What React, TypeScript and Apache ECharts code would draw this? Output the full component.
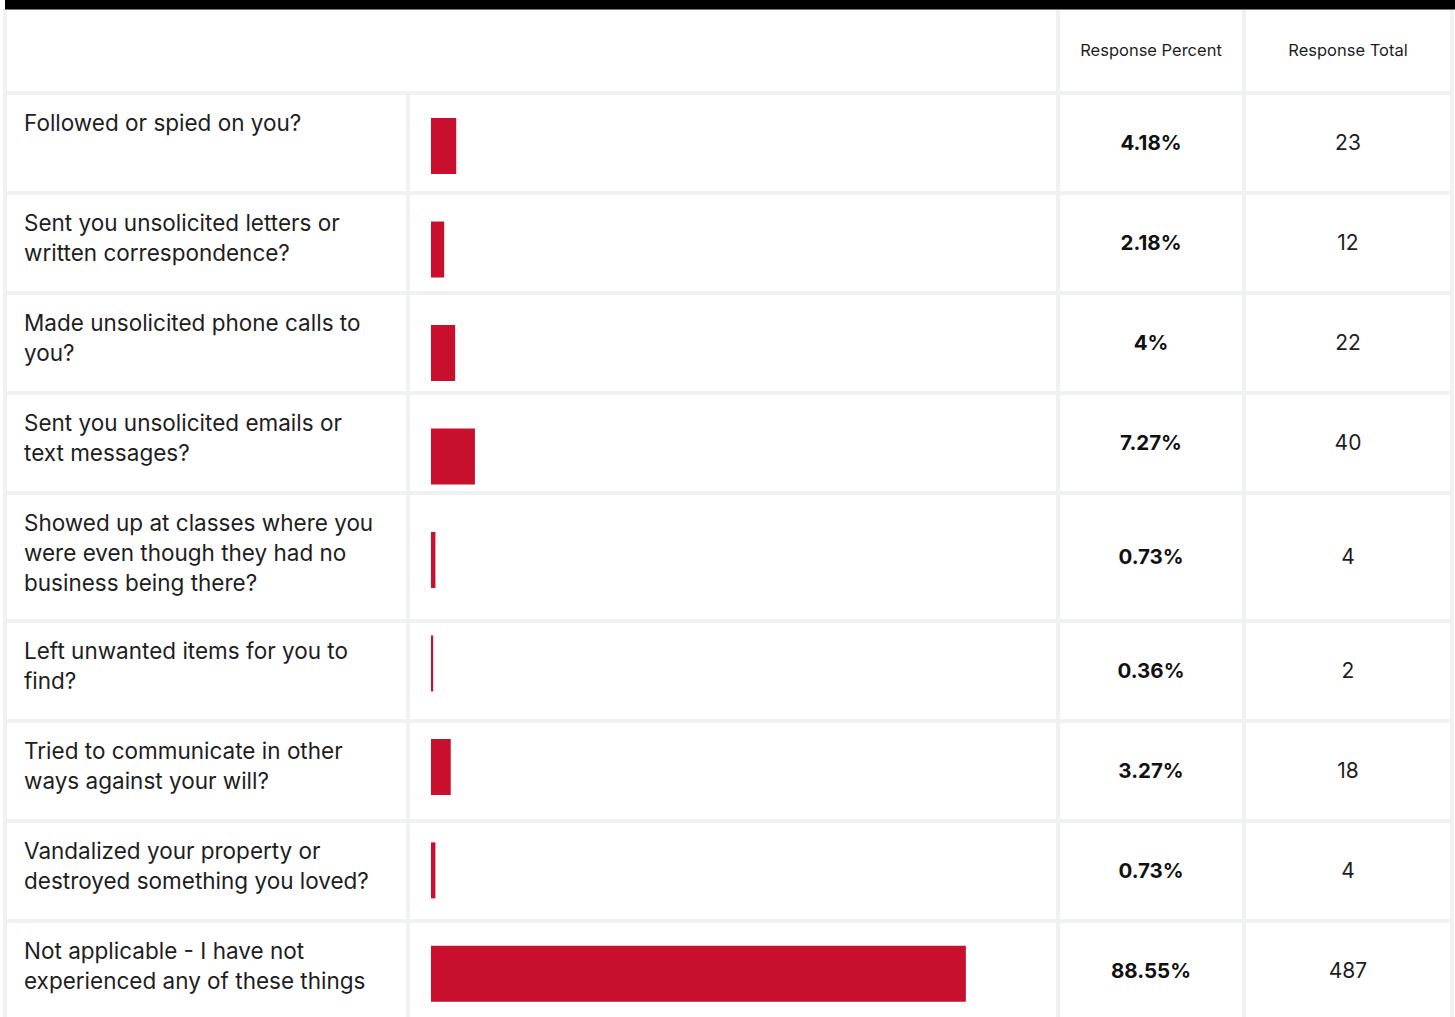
import React, { useEffect, useRef } from "react";
import * as echarts from "echarts";

const questions: string[][] = [
  ["Followed or spied on you?"],
  ["Sent you unsolicited letters or", "written correspondence?"],
  ["Made unsolicited phone calls to", "you?"],
  ["Sent you unsolicited emails or", "text messages?"],
  ["Showed up at classes where you", "were even though they had no", "business being there?"],
  ["Left unwanted items for you to", "find?"],
  ["Tried to communicate in other", "ways against your will?"],
  ["Vandalized your property or", "destroyed something you loved?"],
  ["Not applicable - I have not", "experienced any of these things"],
];
const percents: number[] = [4.18, 2.18, 4, 7.27, 0.73, 0.36, 3.27, 0.73, 88.55];
const percentLabels: string[] = ["4.18%", "2.18%", "4%", "7.27%", "0.73%", "0.36%", "3.27%", "0.73%", "88.55%"];
const totals: number[] = [23, 12, 22, 40, 4, 2, 18, 4, 487];
const headers: string[] = ["Response Percent", "Response Total"];

const FONT = "Inter, 'Noto Sans', sans-serif";
const BAR_COLOR = "#c8102e";
const LINE = "#f0f1f1";
const TEXT = "#1e1e1e";

export default function App() {
  const ref = useRef<HTMLDivElement>(null);
  useEffect(() => {
    if (!ref.current) return;
    document.body.style.margin = "0";
    const chart = echarts.init(ref.current, null, { renderer: "svg" });

    const colL = [7, 410, 1060, 1246];
    const colR = [406, 1056, 1242, 1450];
    const headerTop = 10;
    const headerBottom = 91;
    const gap = 4;
    const rows: { top: number; h: number }[] = [];
    let y = headerBottom + gap;
    questions.forEach((q) => {
      const h = q.length >= 3 ? 124 : 96;
      rows.push({ top: y, h });
      y += h + gap;
    });

    const elements: any[] = [];
    elements.push({ type: "rect", z: -5, shape: { x: 3, y: 9, width: 1451, height: 1100 }, style: { fill: LINE }, silent: true });
    elements.push({ type: "rect", z: -4, shape: { x: 5, y: 0, width: 1450, height: 9.5 }, style: { fill: "#000" }, silent: true });
    elements.push({ type: "rect", z: -3, shape: { x: colL[0], y: headerTop, width: colR[1] - colL[0], height: headerBottom - headerTop }, style: { fill: "#fff" } });
    elements.push({ type: "rect", z: -3, shape: { x: colL[2], y: headerTop, width: colR[2] - colL[2], height: headerBottom - headerTop }, style: { fill: "#fff" } });
    elements.push({ type: "rect", z: -3, shape: { x: colL[3], y: headerTop, width: colR[3] - colL[3], height: headerBottom - headerTop }, style: { fill: "#fff" } });
    headers.forEach((h, i) => {
      const c = i + 2;
      elements.push({
        type: "text", z: 5, x: (colL[c] + colR[c]) / 2, y: 50,
        style: { text: h, fill: TEXT, fontSize: 16.5, fontFamily: FONT, align: "center", verticalAlign: "middle", textAlign: "center", textVerticalAlign: "middle" },
      });
    });
    rows.forEach((r, i) => {
      for (let c = 0; c < 4; c++) {
        elements.push({ type: "rect", z: -3, shape: { x: colL[c], y: r.top, width: colR[c] - colL[c], height: Math.min(r.h, 1040 - r.top) }, style: { fill: "#fff" } });
      }
      elements.push({
        type: "text", z: 5, x: 24, y: r.top + 12,
        style: { text: questions[i].join("\n"), fill: TEXT, fontSize: 22.5, lineHeight: 30, fontFamily: FONT, align: "left", verticalAlign: "top", textAlign: "left", textVerticalAlign: "top" },
      });
      const cy = r.top + r.h / 2 - 1;
      elements.push({
        type: "text", z: 5, x: (colL[2] + colR[2]) / 2, y: cy,
        style: { text: percentLabels[i], fill: "#111", fontSize: 20.5, fontWeight: "bold", fontFamily: FONT, align: "center", verticalAlign: "middle", textAlign: "center", textVerticalAlign: "middle" },
      });
      elements.push({
        type: "text", z: 5, x: (colL[3] + colR[3]) / 2, y: cy,
        style: { text: String(totals[i]), fill: TEXT, fontSize: 21, fontFamily: FONT, align: "center", verticalAlign: "middle", textAlign: "center", textVerticalAlign: "middle" },
      });
    });

    chart.setOption({
      animation: false,
      backgroundColor: "#fff",
      graphic: { elements },
      grid: { left: 431, width: 604, top: 94.3, height: 931.3, containLabel: false },
      xAxis: { type: "value", min: 0, max: 100, show: false },
      yAxis: { type: "category", inverse: true, data: questions.map((q) => q.join(" ")), show: false },
      series: [
        {
          type: "bar", data: percents, barWidth: 56, z: 10,
          itemStyle: { color: BAR_COLOR }, silent: true,
        },
      ],
    });
    return () => chart.dispose();
  }, []);
  return (
    <div style={{ position: "absolute", left: 0, top: 0, width: 1455, height: 1017, overflow: "hidden" }}>
      <div ref={ref} style={{ width: 1455, height: 1040 }} />
    </div>
  );
}
